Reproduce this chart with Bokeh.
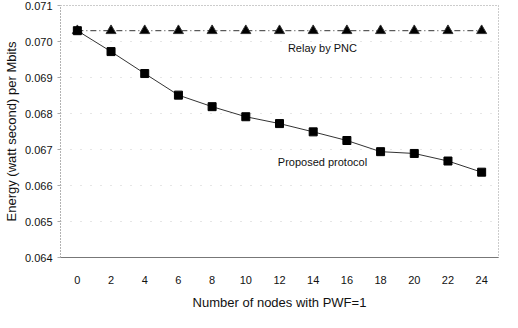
from bokeh.plotting import figure
from bokeh.models import FixedTicker, PrintfTickFormatter, Range1d, Label
from bokeh.embed import file_html
from bokeh.resources import INLINE

nodes = [0, 2, 4, 6, 8, 10, 12, 14, 16, 18, 20, 22, 24]
relay_pnc = [0.0703] * 13
proposed = [0.0703, 0.06972, 0.06911, 0.06851, 0.06819, 0.06791, 0.06772,
            0.06749, 0.06725, 0.06694, 0.06689, 0.06668, 0.06637]
y_ticks = [0.064, 0.065, 0.066, 0.067, 0.068, 0.069, 0.070, 0.071]

FONT = "Liberation Sans"

p = figure(width=502, height=312, output_backend="svg", toolbar_location=None,
           x_range=Range1d(-1, 25), y_range=Range1d(0.064, 0.071),
           min_border_left=60, min_border_right=4, min_border_top=5, min_border_bottom=43)
p.background_fill_color = "white"
p.border_fill_color = "white"
p.outline_line_color = "#999999"
p.outline_line_dash = "1 2"

p.xgrid.grid_line_color = None
p.ygrid.grid_line_color = "#cccccc"
p.ygrid.grid_line_dash = "1 9"
p.ygrid.ticker = FixedTicker(ticks=y_ticks)

p.xaxis.ticker = FixedTicker(ticks=nodes)
p.yaxis.ticker = FixedTicker(ticks=y_ticks)
p.yaxis.formatter = PrintfTickFormatter(format="%.3f")

for ax in (p.xaxis, p.yaxis):
    ax.major_label_text_font = FONT
    ax.major_label_text_font_size = "11px"
    ax.major_label_text_color = "#111111"
    ax.axis_label_text_font = FONT
    ax.axis_label_text_font_size = "13px"
    ax.axis_label_text_font_style = "normal"
    ax.axis_label_text_color = "#111111"
    ax.minor_tick_line_color = None

p.xaxis.axis_label = "Number of nodes with PWF=1"
p.yaxis.axis_label = "Energy (watt second) per Mbits"
p.xaxis.axis_line_color = "#777777"
p.xaxis.major_tick_line_color = None
p.xaxis.major_label_standoff = 12
p.xaxis.axis_label_standoff = 8
p.yaxis.axis_line_color = "#999999"
p.yaxis.axis_line_dash = "1 2"
p.yaxis.major_tick_line_color = "#aaaaaa"
p.yaxis.major_tick_in = 0
p.yaxis.major_tick_out = 3
p.yaxis.major_label_standoff = 5
p.yaxis.axis_label_standoff = 3

p.line(nodes, relay_pnc, line_color="#333333", line_width=1, line_dash="6 3 1 3")
p.scatter(nodes, relay_pnc, marker="triangle", size=10, fill_color="black",
          line_color="#333333")

p.line(nodes, proposed, line_color="#333333", line_width=1)
p.scatter(nodes, proposed, marker="square", size=8, fill_color="black",
          line_color="black")

p.add_layout(Label(x=12.5, y=0.06982, text="Relay by PNC", text_font=FONT,
                   text_font_size="11px", text_color="#111111",
                   text_baseline="middle"))
p.add_layout(Label(x=11.9, y=0.06665, text="Proposed protocol", text_font=FONT,
                   text_font_size="11px", text_color="#111111",
                   text_baseline="middle"))

open("out.html", "w").write(file_html(p, INLINE))
